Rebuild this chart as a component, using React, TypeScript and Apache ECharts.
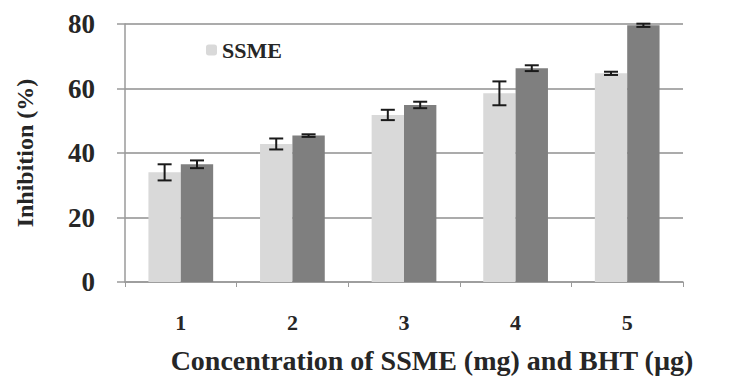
import React, { useEffect, useRef } from "react";
import * as echarts from "echarts";

const categories = ["1", "2", "3", "4", "5"];
const ssmeValues = [34.0, 42.8, 51.8, 58.5, 64.7];
const ssmeErrors = [2.5, 1.7, 1.6, 3.7, 0.5];
const bhtValues = [36.5, 45.4, 54.9, 66.3, 79.6];
const bhtErrors = [1.2, 0.4, 1.0, 0.9, 0.5];
const yTicks = { min: 0, max: 80, interval: 20 };

const FONT = "'Liberation Serif', 'Times New Roman', serif";
const TEXT = "#262626";
const GAP = 0.42;

function errorSeries(values: number[], errors: number[], side: number) {
  return {
    type: "custom",
    z: 10,
    silent: true,
    data: values.map((v, i) => [i, v, errors[i]]),
    encode: { x: 0, y: 1 },
    renderItem: (params: any, api: any) => {
      const idx = api.value(0);
      const v = api.value(1);
      const e = api.value(2);
      const band = api.size([1, 0])[0];
      const barW = (band * (1 - GAP)) / 2;
      const top = api.coord([idx, v + e]);
      const bot = api.coord([idx, v - e]);
      const x = top[0] + (side * barW) / 2;
      const cap = 7;
      const style = { stroke: "#1a1a1a", lineWidth: 2 };
      return {
        type: "group",
        children: [
          { type: "line", shape: { x1: x, y1: top[1], x2: x, y2: bot[1] }, style },
          { type: "line", shape: { x1: x - cap, y1: top[1], x2: x + cap, y2: top[1] }, style },
          { type: "line", shape: { x1: x - cap, y1: bot[1], x2: x + cap, y2: bot[1] }, style },
        ],
      };
    },
  };
}

export default function App() {
  const ref = useRef<HTMLDivElement>(null);
  useEffect(() => {
    document.body.style.margin = "0";
    if (!ref.current) return;
    const chart = echarts.init(ref.current, undefined, { renderer: "svg" });
    chart.setOption({
      animation: false,
      backgroundColor: "#ffffff",
      grid: {
        left: 125,
        right: 51,
        top: 24,
        bottom: 97,
        containLabel: false,
        outerBoundsMode: "none",
      },
      legend: {
        data: ["SSME"],
        left: 201,
        top: 34,
        itemWidth: 11,
        itemHeight: 11,
        itemGap: 6,
        textStyle: { fontFamily: FONT, fontWeight: "bold", fontSize: 22, color: TEXT },
      },
      xAxis: {
        type: "category",
        data: categories,
        axisLine: { lineStyle: { color: "#9a9a9a", width: 1.5 } },
        axisTick: { show: true, length: 5, lineStyle: { color: "#9a9a9a" } },
        axisLabel: {
          fontFamily: FONT,
          fontWeight: "bold",
          fontSize: 22,
          color: TEXT,
          margin: 29,
        },
        name: "Concentration of SSME (mg) and BHT (\u00b5g)",
        nameLocation: "middle",
        nameGap: 64,
        nameTextStyle: {
          fontFamily: FONT,
          fontWeight: "bold",
          fontSize: 28,
          color: TEXT,
          padding: [0, 0, 0, 56],
        },
      },
      yAxis: {
        type: "value",
        min: yTicks.min,
        max: yTicks.max,
        interval: yTicks.interval,
        axisLine: { show: true, lineStyle: { color: "#9a9a9a", width: 1.5 } },
        axisTick: { show: true, length: 8, lineStyle: { color: "#9a9a9a", width: 1.5 } },
        splitLine: { lineStyle: { color: "#ababab", width: 1.8 } },
        axisLabel: {
          fontFamily: FONT,
          fontWeight: "bold",
          fontSize: 27,
          color: TEXT,
          margin: 30,
        },
        name: "Inhibition (%)",
        nameLocation: "middle",
        nameGap: 88,
        nameRotate: 90,
        nameTextStyle: { fontFamily: FONT, fontWeight: "bold", fontSize: 24, color: TEXT },
      },
      series: [
        {
          name: "SSME",
          type: "bar",
          data: ssmeValues,
          barGap: "0%",
          barCategoryGap: GAP * 100 + "%",
          itemStyle: { color: "#d9d9d9" },
        },
        {
          name: "BHT",
          type: "bar",
          data: bhtValues,
          barGap: "0%",
          barCategoryGap: GAP * 100 + "%",
          itemStyle: { color: "#7f7f7f" },
        },
        errorSeries(ssmeValues, ssmeErrors, -1),
        errorSeries(bhtValues, bhtErrors, 1),
      ],
    });
    return () => chart.dispose();
  }, []);
  return <div ref={ref} style={{ width: 734, height: 379 }} />;
}
